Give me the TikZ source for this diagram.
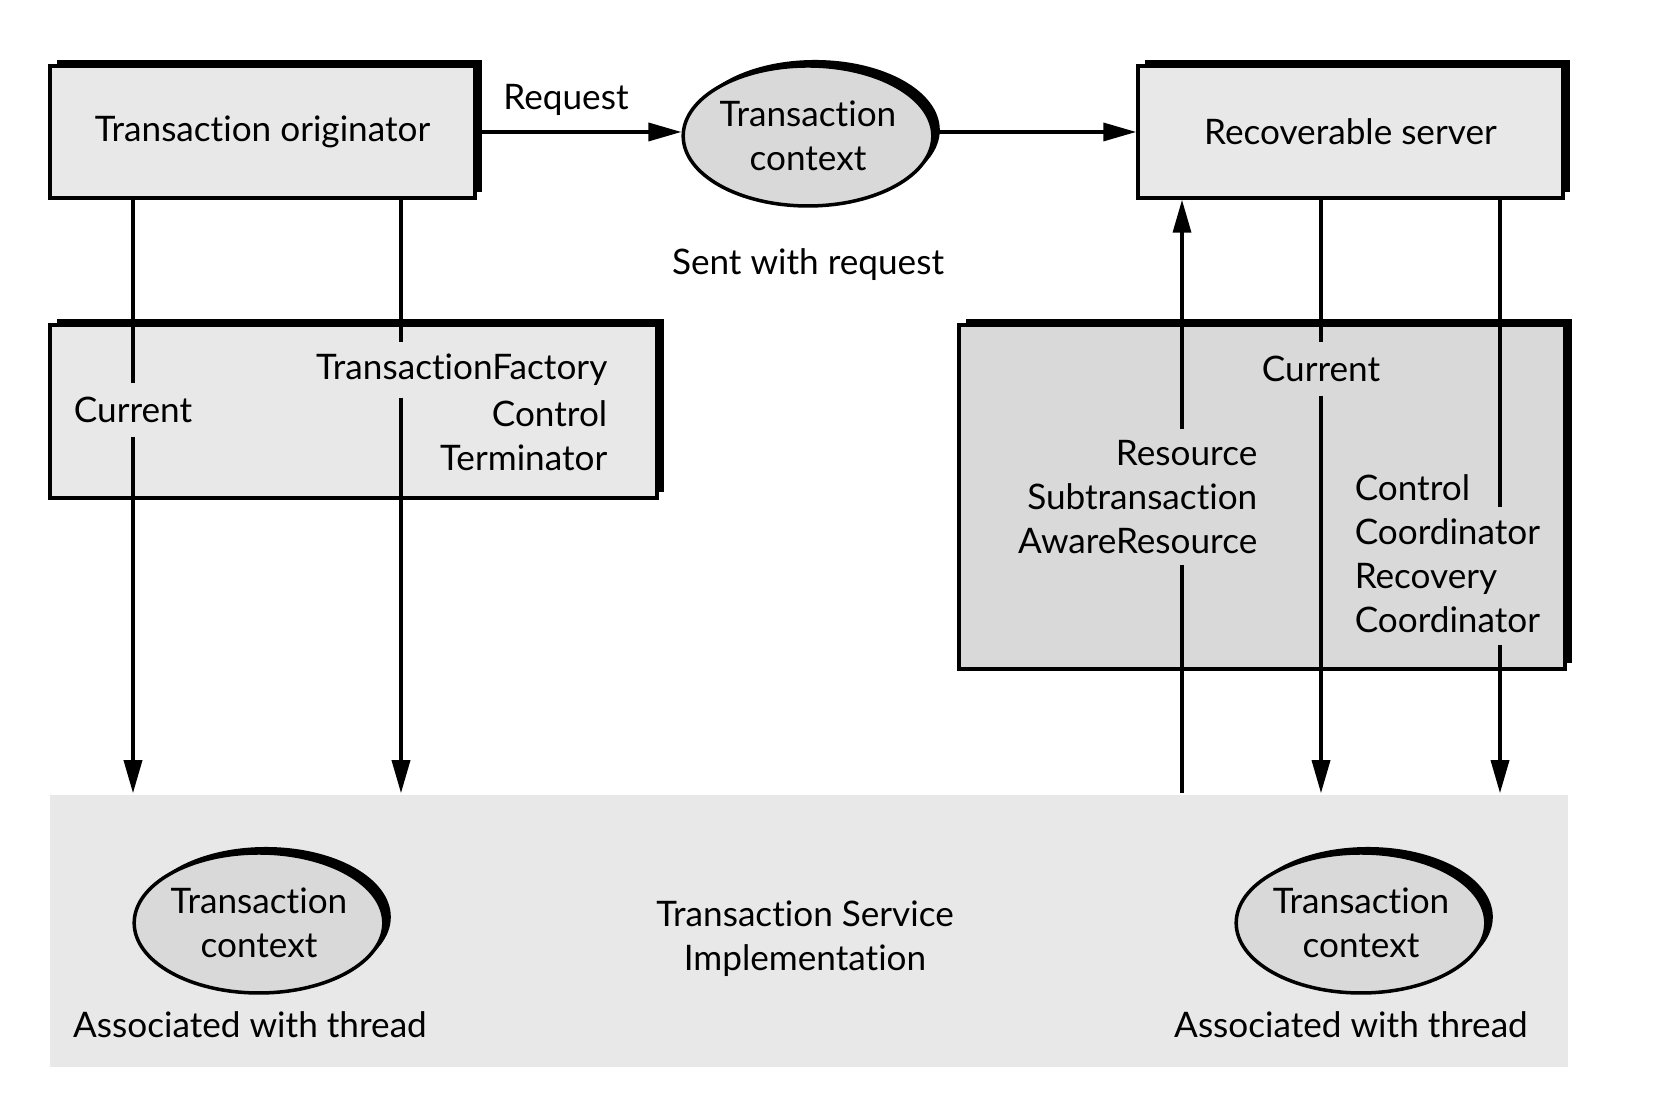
\documentclass[tikz,border=0pt]{standalone}
\usepackage{fontspec}
\setmainfont[Ligatures=NoCommon]{Lato}
\usetikzlibrary{arrows.meta,shapes.geometric,shadows,positioning}

\begin{document}
\begin{tikzpicture}[>={Triangle[length=3.3mm,width=1.8mm]},line width=1pt,
every node/.style={font=\fontsize{10pt}{12.5pt}\selectfont},
shd/.style={drop shadow={fill=black,opacity=1,shadow xshift=0.07cm,shadow yshift=0.06cm}},
box/.style={draw,fill=black!9,inner sep=0,shd},
ctx/.style={ellipse,draw,fill=black!15,minimum width=2.44cm,minimum height=1.40cm,inner sep=0,align=center,shd},
lbl/.style={inner sep=0,minimum height=0.5cm},
blk/.style={inner xsep=0,inner ysep=0.1cm}]
\useasboundingbox (0,0) rectangle (16.54,10.98);
% boxes
\node[box,minimum width=4.25cm,minimum height=1.32cm] (orig) at (2.625,9.66) {Transaction originator};
\node[ctx] (sent) at (8.08,9.62) {Transaction\\context};
\node[box,minimum width=4.25cm,minimum height=1.32cm] (srv) at (13.505,9.66) {Recoverable server};
\node[box,minimum width=6.07cm,minimum height=1.73cm] (cli) at (3.535,6.865) {};
\node[box,fill=black!15,minimum width=6.06cm,minimum height=3.44cm] (rbx) at (12.62,6.01) {};
\node[fill=black!9,minimum width=15.18cm,minimum height=2.72cm] (tsi) at (8.09,1.67) {};
\node[align=center] (tsit) at (8.05,1.59) {Transaction Service\\Implementation};
\node[ctx] (thl) at (2.59,1.75) {Transaction\\context};
\node[ctx] (thr) at (13.61,1.75) {Transaction\\context};
\node (athl) at (2.50,0.73) {Associated with thread};
\node (athr) at (13.51,0.73) {Associated with thread};
\node (req) at (5.66,9.98) {Request};
\node (swr) at (8.08,8.33) {Sent with request};
% interface names
\node[lbl] (cur1) at (1.33,6.88) {Current};
\node[blk,anchor=east] (tf) at (6.09,7.28) {TransactionFactory};
\node[blk,anchor=east,align=right] (ctl1) at (6.09,6.62) {Control\\Terminator};
\node[lbl] (cur2) at (13.21,7.29) {Current};
\node[blk,anchor=east,align=right] (rsc) at (12.59,6.01) {Resource\\Subtransaction\\AwareResource};
\node[blk,anchor=west] (ctl2) at (13.53,6.10) {Control};
\node[blk,anchor=west,align=left] (crd) at (13.53,5.22) {Coordinator\\Recovery\\Coordinator};
\coordinate (xb) at (4.01,0);
\coordinate (xc) at (11.82,0);
\coordinate (xd) at (15.00,0);
% connectors
\draw[->] (orig.east) -- (orig.east -| sent.west);
\draw[->] (orig.east -| sent.east) -- (orig.east -| srv.west);
\draw (cur1.north |- orig.south) -- (cur1.north);
\draw[->] (cur1.south) -- (cur1.south |- tsi.north);
\draw (xb |- orig.south) -- (xb |- tf.north);
\draw[->] (xb |- tf.south) -- (xb |- tsi.north);
\draw[->] (xc |- rsc.north) -- (xc |- srv.south);
\draw (xc |- tsi.north) -- (xc |- rsc.south);
\draw (cur2.north |- srv.south) -- (cur2.north);
\draw[->] (cur2.south) -- (cur2.south |- tsi.north);
\draw (xd |- srv.south) -- (xd |- crd.north);
\draw[->] (xd |- crd.south) -- (xd |- tsi.north);
\end{tikzpicture}
\end{document}
